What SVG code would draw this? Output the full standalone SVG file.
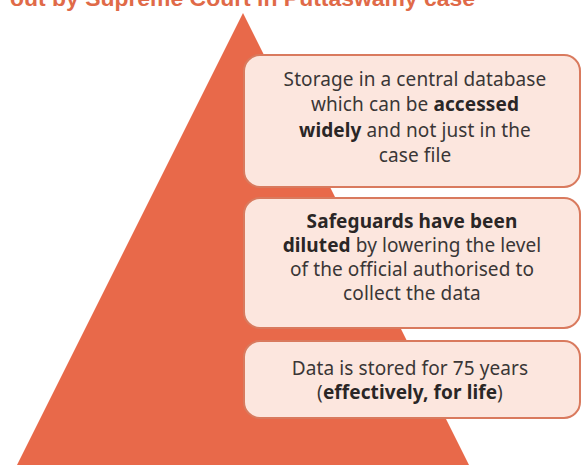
<svg xmlns="http://www.w3.org/2000/svg" width="583" height="465" viewBox="0 0 583 465">
<style>
.box{fill:#FCE6DE;stroke:#D97A5E;stroke-width:2}
.t{font-family:"Noto Sans","Lato","Liberation Sans",sans-serif;font-size:19px;letter-spacing:0.1px;fill:#3A3636;text-anchor:middle}
.b{font-weight:bold;fill:#2A2626}
.title{font-family:"Liberation Sans","Noto Sans",sans-serif;font-weight:bold;font-size:22px;fill:#E06A48}
</style>
<rect width="583" height="465" fill="#FFFFFF"/>
<text class="title" x="10" y="6" textLength="465" lengthAdjust="spacingAndGlyphs">out by Supreme Court in Puttaswamy case</text>
<g id="pyramid">
<polygon points="243,13 17,465 469,465" fill="#E8694A"/>
</g>
<g id="connectors"></g>
<g id="node1">
<rect class="box" x="244" y="55" width="336" height="132" rx="16"/>
<text class="t" x="415" y="86">Storage in a central database</text>
<text class="t" x="415" y="111">which can be <tspan class="b">accessed</tspan></text>
<text class="t" x="415" y="137"><tspan class="b">widely</tspan> and not just in the</text>
<text class="t" x="415" y="162">case file</text>
</g>
<g id="node2">
<rect class="box" x="244" y="198" width="336" height="130" rx="16"/>
<text class="t b" x="412" y="228">Safeguards have been</text>
<text class="t" x="412" y="252"><tspan class="b">diluted</tspan> by lowering the level</text>
<text class="t" x="412" y="276">of the official authorised to</text>
<text class="t" x="412" y="300">collect the data</text>
</g>
<g id="node3">
<rect class="box" x="244" y="341" width="336" height="77" rx="16"/>
<text class="t" x="410" y="375">Data is stored for 75 years</text>
<text class="t" x="410" y="399">(<tspan class="b">effectively, for life</tspan>)</text>
</g>
</svg>
